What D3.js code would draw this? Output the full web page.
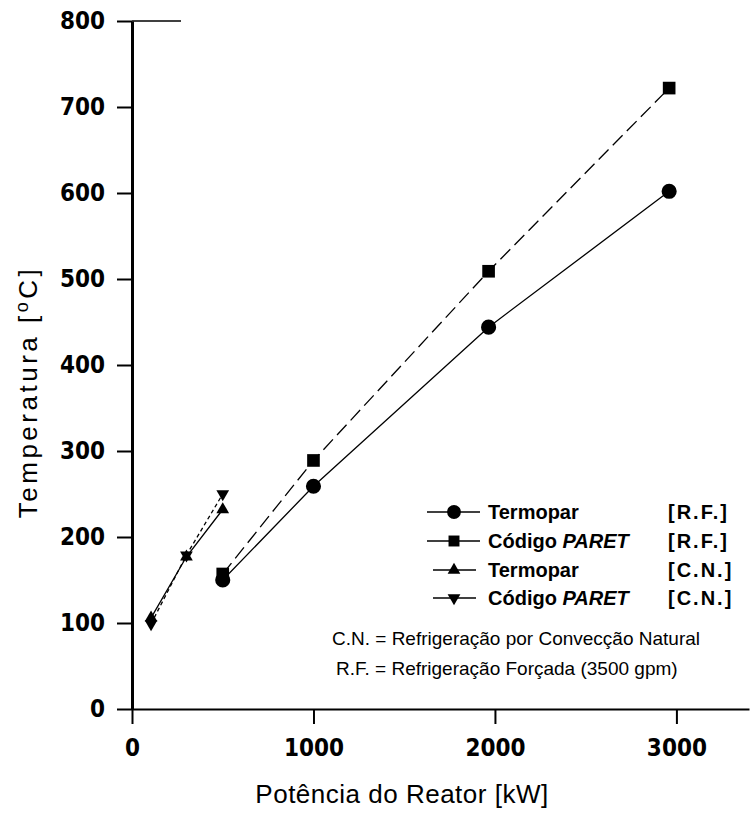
<!DOCTYPE html>
<html>
<head>
<meta charset="utf-8">
<script src="https://cdn.jsdelivr.net/npm/d3@7"></script>
<style>
  body { margin: 0; background: #fff; }
  svg text { fill: #000; }
</style>
</head>
<body>
<svg id="chart" width="754" height="821"></svg>
<script>
// ---- data ----
var rfPower   = [500, 1000, 1965, 2960];
var rfTermo   = [150, 259, 444, 602];
var rfParet   = [157, 289, 509, 722];
var cnPower   = [105, 300, 500];
var cnTermo   = [106, 177, 232];
var cnParet   = [99, 179, 250];
var xTicks    = [0, 1000, 2000, 3000];
var yTicks    = [0, 100, 200, 300, 400, 500, 600, 700, 800];

var legendRows = [
	{ name: "Termopar", italic: "", tag: "[R.F.]", sym: d3.symbolCircle, size: 150, rot: 0 },
	{ name: "Código ", italic: "PARET", tag: "[R.F.]", sym: d3.symbolSquare, size: 120, rot: 0 },
	{ name: "Termopar", italic: "", tag: "[C.N.]", sym: d3.symbolTriangle, size: 70, rot: 0 },
	{ name: "Código ", italic: "PARET", tag: "[C.N.]", sym: d3.symbolTriangle, size: 70, rot: 180 }
];
var notes = ["C.N. = Refrigeração por Convecção Natural", "R.F. = Refrigeração Forçada (3500 gpm)"];

var svg = d3.select("#chart");

// scales
var x = d3.scaleLinear().domain([0, 3400]).range([132, 749]);
var y = d3.scaleLinear().domain([0, 800]).range([709, 21]);

// -- axes
var yAxis = d3.axisLeft(y).tickValues(yTicks).tickSizeInner(15).tickSizeOuter(0).tickPadding(12);
var xAxis = d3.axisBottom(x).tickValues(xTicks).tickFormat(d3.format("d"))
	.tickSizeInner(15).tickSizeOuter(0).tickPadding(15);

var gx = svg.append("g").attr("transform", "translate(0," + y(0) + ")").call(xAxis);
gx.select(".domain").attr("stroke-width", 2);
gx.selectAll(".tick line").attr("stroke-width", 2);

var gy = svg.append("g").attr("transform", "translate(" + x(0) + ",0)").call(yAxis);
gy.select(".domain").attr("stroke-width", 3);
gy.selectAll(".tick line").attr("stroke-width", 2);

svg.selectAll(".tick text")
	.attr("font-family", "'DejaVu Sans Condensed', 'DejaVu Sans', sans-serif")
	.attr("font-weight", "bold")
	.attr("font-size", 24);

// short stub on the right of the top tick
svg.append("line")
	.attr("x1", x(0)).attr("x2", x(270))
	.attr("y1", y(800)).attr("y2", y(800))
	.attr("stroke", "#000").attr("stroke-width", 1.5);

// -- axis titles
svg.append("text")
	.attr("x", 402).attr("y", 803)
	.attr("text-anchor", "middle")
	.attr("font-family", "'Liberation Sans', Arial, sans-serif")
	.attr("font-size", 26)
	.attr("letter-spacing", 0.5)
	.text("Potência do Reator [kW]");

var yt = svg.append("text")
	.attr("transform", "translate(37,392) rotate(-90)")
	.attr("text-anchor", "middle")
	.attr("font-family", "'Liberation Sans', Arial, sans-serif")
	.attr("font-size", 26)
	.attr("letter-spacing", 3.5);
yt.append("tspan").text("Temperatura [");
yt.append("tspan").attr("dy", -9).attr("font-size", 18).text("o");
yt.append("tspan").attr("dy", 9).text("C]");

// -- series
function series(px, py, dash, sym, size, rot) {
	var pts = px.map(function(p, i) { return [p, py[i]]; });
	var line = d3.line().x(function(d) { return x(d[0]); }).y(function(d) { return y(d[1]); });
	svg.append("path")
		.attr("d", line(pts))
		.attr("fill", "none")
		.attr("stroke", "#000")
		.attr("stroke-width", 1.3)
		.attr("stroke-dasharray", dash);
	svg.selectAll(null).data(pts).enter().append("path")
		.attr("d", d3.symbol().type(sym).size(size)())
		.attr("transform", function(d) {
			return "translate(" + x(d[0]) + "," + y(d[1]) + ") rotate(" + rot + ")";
		})
		.attr("fill", "#000");
}

series(rfPower, rfTermo, null, d3.symbolCircle, 180, 0);
series(rfPower, rfParet, "14,6", d3.symbolSquare, 160, 0);
series(cnPower, cnTermo, null, d3.symbolTriangle, 70, 0);
series(cnPower, cnParet, "4,3", d3.symbolTriangle, 70, 180);

// -- legend
var rowY = [512, 541, 570, 598];
legendRows.forEach(function(r, i) {
	var g = svg.append("g").attr("transform", "translate(0," + rowY[i] + ")");
	g.append("line")
		.attr("x1", i < 2 ? 427 : 433).attr("x2", i < 2 ? 480 : 476)
		.attr("stroke", "#000").attr("stroke-width", 1.5);
	g.append("path")
		.attr("d", d3.symbol().type(r.sym).size(r.size)())
		.attr("transform", "translate(454,0) rotate(" + r.rot + ")")
		.attr("fill", "#000");
	var t = g.append("text")
		.attr("x", 488).attr("dy", "0.35em")
		.attr("font-family", "'Liberation Sans', Arial, sans-serif")
		.attr("font-weight", "bold")
		.attr("font-size", 20);
	t.append("tspan").text(r.name);
	if (r.italic) t.append("tspan").attr("font-style", "italic").text(r.italic);
	g.append("text")
		.attr("x", 668).attr("dy", "0.35em")
		.attr("font-family", "'Liberation Sans', Arial, sans-serif")
		.attr("font-weight", "bold")
		.attr("font-size", 20)
		.attr("letter-spacing", 2)
		.text(r.tag);
});

// notes
svg.selectAll(".note").data(notes).enter().append("text")
	.attr("class", "note")
	.attr("x", function(d, i) { return i === 0 ? 332 : 336; })
	.attr("y", function(d, i) { return 638 + i * 30; })
	.attr("dy", "0.35em")
	.attr("font-family", "'Liberation Sans', Arial, sans-serif")
	.attr("font-size", 19)
	.text(function(d) { return d; });
</script>
</body>
</html>
